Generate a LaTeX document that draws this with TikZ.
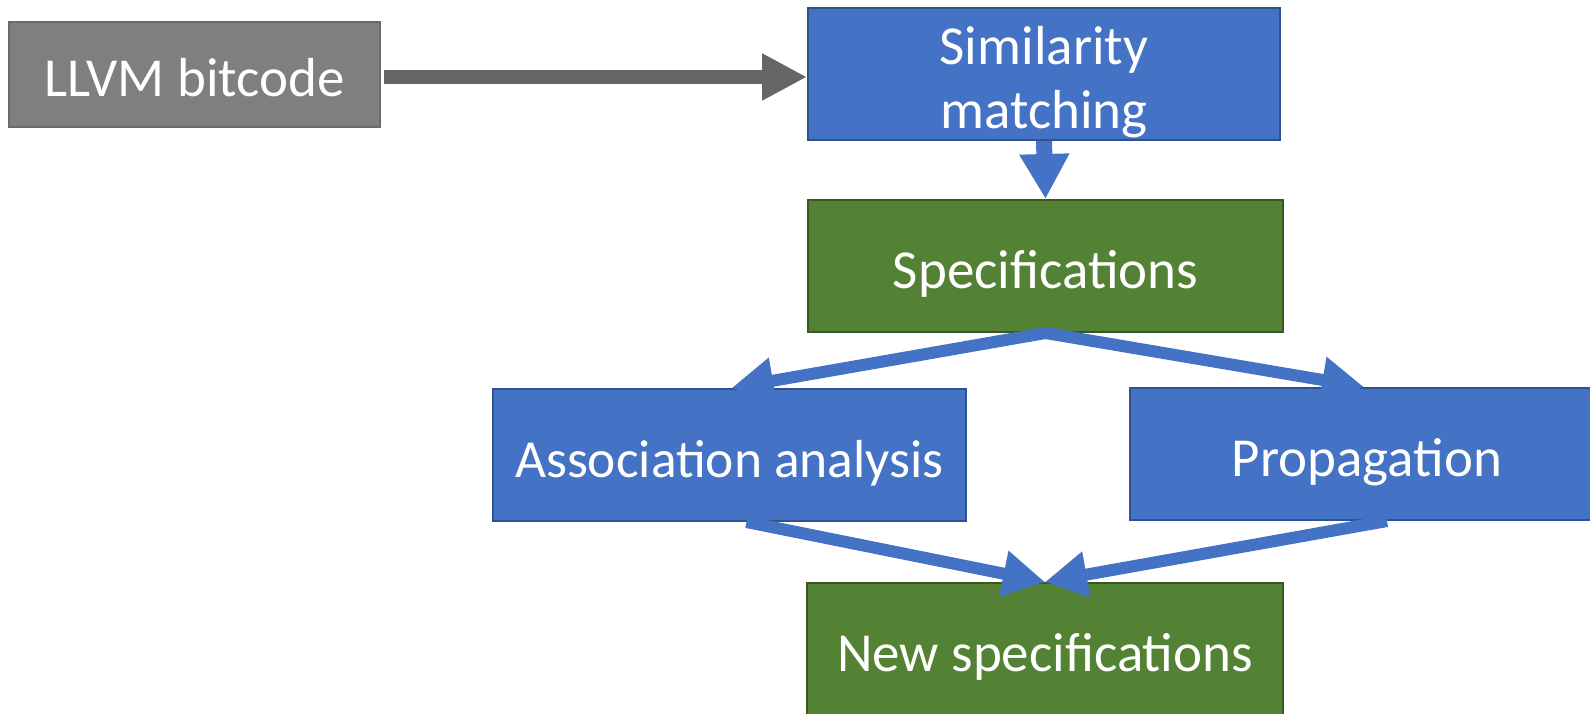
\documentclass[tikz,border=0pt]{standalone}
\usepackage{fontspec}
\setmainfont{Carlito}
\usetikzlibrary{arrows.meta}
\definecolor{boxblue}{HTML}{4472C4}
\definecolor{boxblueline}{HTML}{2F528F}
\definecolor{boxgreen}{HTML}{548235}
\definecolor{boxgreenline}{HTML}{385723}
\definecolor{boxgray}{HTML}{7F7F7F}
\definecolor{boxgrayline}{HTML}{6A6A6A}
\definecolor{arrowgray}{HTML}{666666}
\tikzset{
  box/.style={draw, line width=2pt, inner sep=0pt, text=white, align=center,
    font=\fontsize{55}{64}\selectfont, text height=46pt, text depth=2pt},
  bluebox/.style={box, fill=boxblue, draw=boxblueline},
  greenbox/.style={box, fill=boxgreen, draw=boxgreenline},
  graybox/.style={box, fill=boxgray, draw=boxgrayline},
  grayarrow/.style={draw=arrowgray, line width=14pt, -{Triangle[length=45pt,width=44pt]}},
  downarrow/.style={draw=boxblue, line width=16pt, -{Triangle[length=45pt,width=47pt]}},
  diagarrow/.style={draw=boxblue, line width=12pt, -{Triangle[length=42pt,width=44pt]}},
}
\begin{document}
\begin{tikzpicture}[x=1pt,y=-1pt]
\useasboundingbox (0,0) rectangle (1590,714);
\clip (0,0) rectangle (1590,714);
\fill[white] (0,0) rectangle (1590,714);
\node[graybox, minimum width=371pt, minimum height=105pt] (llvm) at (194.5,74.5) {LLVM bitcode};
\node[bluebox, minimum width=472pt, minimum height=132pt, text height=110pt, text depth=0pt] (sim) at (1044,74) {Similarity\\matching};
\node[greenbox, minimum width=475pt, minimum height=132pt] (spec) at (1045.5,266) {Specifications};
\node[bluebox, minimum width=473pt, minimum height=132pt, font=\fontsize{53.5}{64}\selectfont] (assoc) at (729.5,455) {Association analysis};
\node[bluebox, minimum width=474pt, minimum height=132pt] (prop) at (1367,454) {Propagation};
\node[greenbox, minimum width=476pt, minimum height=132pt] (newspec) at (1045,649) {New specifications};
\draw[grayarrow] ([xshift=3pt,yshift=-2.5pt]llvm.east) -- ([yshift=-3pt]sim.west);
\draw[downarrow] (sim.south) -- (spec.north);
\draw[diagarrow] (spec.south) -- ([xshift=2pt]assoc.north);
\draw[diagarrow] (spec.south) -- ([xshift=-3pt]prop.north);
\draw[diagarrow] ([xshift=17pt]assoc.south) -- (newspec.north);
\draw[diagarrow] ([xshift=20pt]prop.south) -- (newspec.north);
\end{tikzpicture}
\end{document}
